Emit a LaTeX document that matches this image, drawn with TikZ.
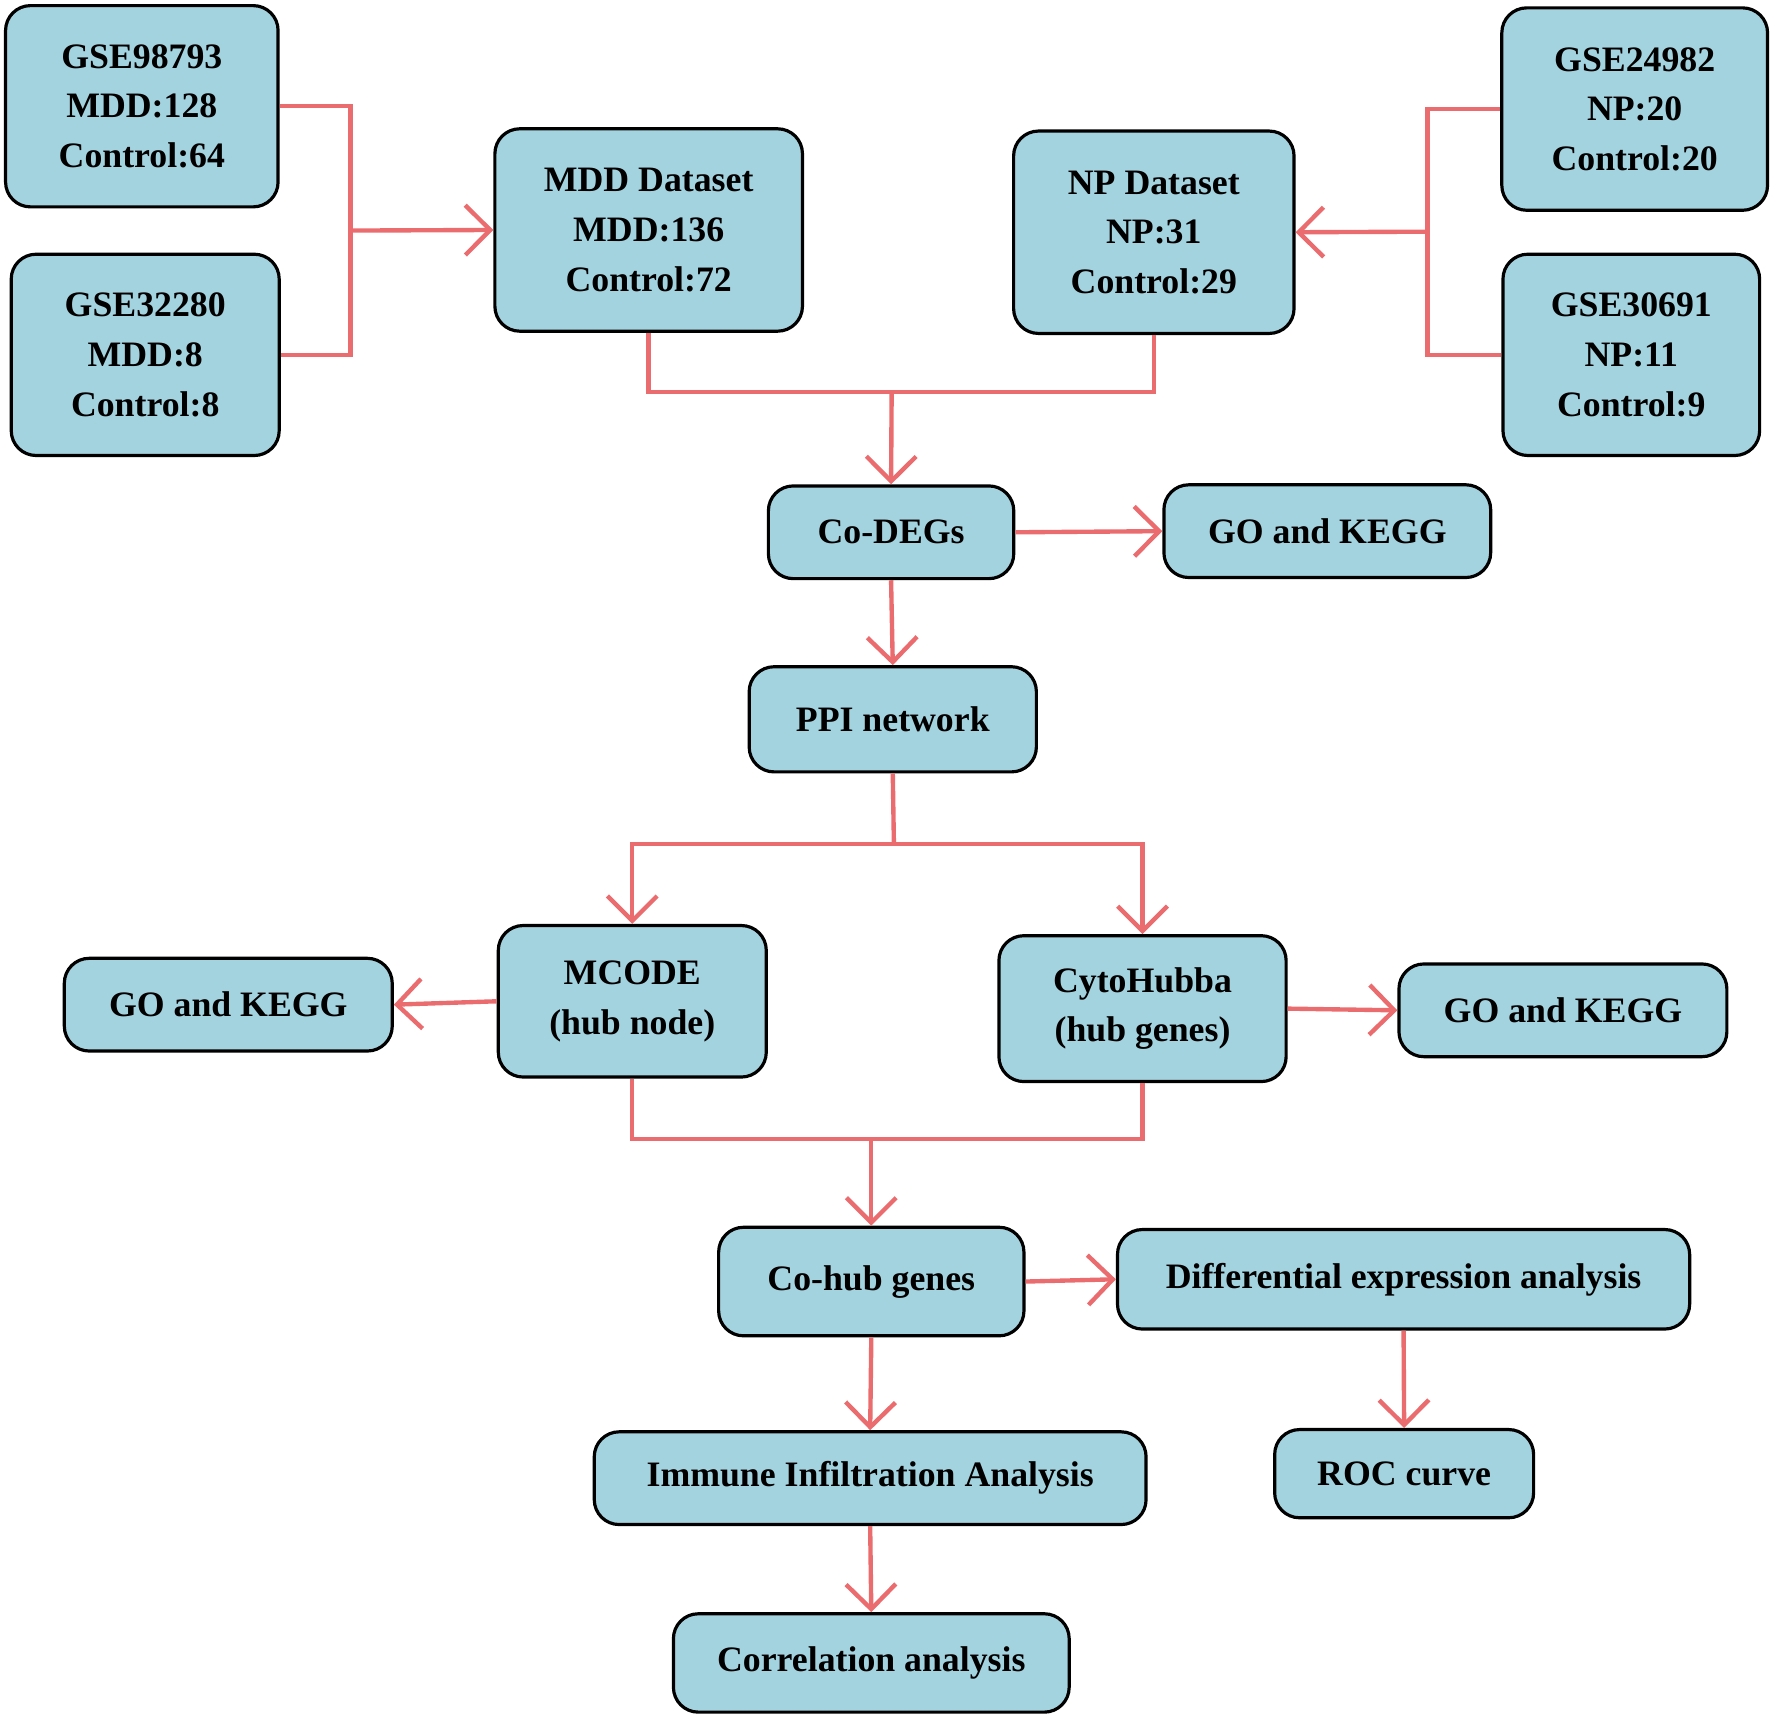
\documentclass[tikz,border=0pt]{standalone}
\usepackage{fontspec}
\setmainfont{Liberation Serif}
\usetikzlibrary{arrows.meta}
\definecolor{boxblue}{RGB}{164,211,224}
\definecolor{linkred}{RGB}{234,108,110}
\tikzset{
  box/.style={draw=black,thick,fill=boxblue,rounded corners=2.2mm,align=center,
    font=\fontsize{9}{12.5}\selectfont\bfseries,inner sep=0pt},
  link/.style={linkred,line width=1.1pt},
  arr/.style={link,-{Straight Barb[length=2.2mm,width=4.4mm,line width=1.1pt]}}
}
\begin{document}
\begin{tikzpicture}[x=0.01cm,y=-0.01cm]
    \useasboundingbox (0,0) rectangle (1568,1520);
    % datasets
    \node [box,minimum width=2.41cm,minimum height=1.78cm] (gA) at (125.5,94) {GSE98793\\MDD:128\\Control:64};
    \node [box,minimum width=2.37cm,minimum height=1.78cm] (gB) at (128.5,314) {GSE32280\\MDD:8\\Control:8};
    \node [box,minimum width=2.72cm,minimum height=1.79cm] (mdd) at (574,203.5) {MDD Dataset\\MDD:136\\Control:72};
    \node [box,minimum width=2.48cm,minimum height=1.79cm] (np) at (1021,205.5) {NP Dataset\\NP:31\\Control:29};
    \node [box,minimum width=2.35cm,minimum height=1.79cm] (gC) at (1446.5,96.5) {GSE24982\\NP:20\\Control:20};
    \node [box,minimum width=2.27cm,minimum height=1.78cm] (gD) at (1443.5,314) {GSE30691\\NP:11\\Control:9};
    % analyses
    \node [box,minimum width=2.17cm,minimum height=0.82cm] (codegs) at (788.5,471) {Co-DEGs};
    \node [box,minimum width=2.89cm,minimum height=0.82cm] (goA) at (1174.5,470) {GO and KEGG};
    \node [box,minimum width=2.54cm,minimum height=0.93cm] (ppi) at (790,636.5) {PPI network};
    \node [box,minimum width=2.37cm,minimum height=1.34cm] (mcode) at (559.5,886) {MCODE\\(hub node)};
    \node [box,minimum width=2.90cm,minimum height=0.82cm] (goB) at (202,889) {GO and KEGG};
    \node [box,minimum width=2.54cm,minimum height=1.29cm] (cyto) at (1011,892.5) {CytoHubba\\(hub genes)};
    \node [box,minimum width=2.90cm,minimum height=0.82cm] (goC) at (1383,894) {GO and KEGG};
    \node [box,minimum width=2.70cm,minimum height=0.96cm] (cohub) at (771,1134) {Co-hub genes};
    \node [box,minimum width=5.06cm,minimum height=0.88cm] (diff) at (1242,1132) {Differential expression analysis};
    \node [box,minimum width=4.88cm,minimum height=0.82cm] (immune) at (770,1308) {Immune Infiltration Analysis};
    \node [box,minimum width=2.29cm,minimum height=0.78cm] (roc) at (1242.5,1304) {ROC curve};
    \node [box,minimum width=3.50cm,minimum height=0.87cm] (corr) at (771,1471.5) {Correlation analysis};
    % junctions
    \coordinate (jl) at (310,204);
    \coordinate (jr) at (1263,205);
    \coordinate (jc) at (789,347);
    \coordinate (jp) at (791,747);
    \coordinate (jm) at (771,1008);
    % connectors
    \draw [link] (gA.east) -| (jl) |- (gB.east);
    \draw [arr] (jl) -- (mdd.west);
    \draw [link] (gC.west) -| (jr) |- (gD.west);
    \draw [arr] (jr) -- (np.east);
    \draw [link] (mdd.south) |- (jc) -| (np.south);
    \draw [arr] (jc) -- (codegs.north);
    \draw [arr] (codegs.east) -- (goA.west);
    \draw [arr] (codegs.south) -- (ppi.north);
    \draw [link] (ppi.south) -- (jp);
    \draw [arr] (jp) -| (mcode.north);
    \draw [arr] (jp) -| (cyto.north);
    \draw [arr] (mcode.west) -- (goB.east);
    \draw [arr] (cyto.east) -- (goC.west);
    \draw [link] (mcode.south) |- (jm) -| (cyto.south);
    \draw [arr] (jm) -- (cohub.north);
    \draw [arr] (cohub.east) -- (diff.west);
    \draw [arr] (diff.south) -- (roc.north);
    \draw [arr] (cohub.south) -- (immune.north);
    \draw [arr] (immune.south) -- (corr.north);
\end{tikzpicture}
\end{document}
